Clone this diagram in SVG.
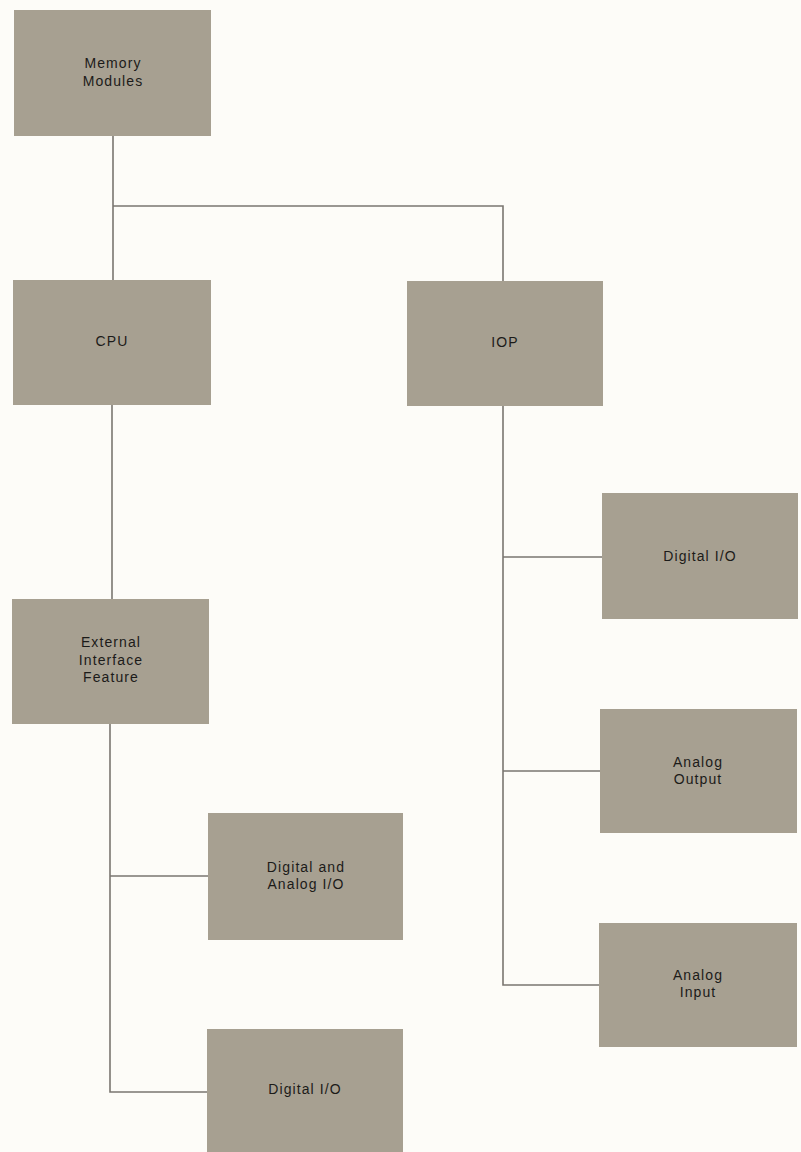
<svg xmlns="http://www.w3.org/2000/svg" width="801" height="1152" viewBox="0 0 801 1152">
<style>
.box{fill:#a7a091;}
.lbl{font-family:"Liberation Sans",Arial,sans-serif;font-size:14px;letter-spacing:1.1px;fill:#1c1b19;text-anchor:middle;}
.conn{fill:none;stroke:#7a7670;stroke-width:1.6;}
</style>
<rect width="801" height="1152" fill="#fdfcf8"/>
<g id="connectors" class="conn">
<path d="M113 136V281M113 206H503V281"/>
<path d="M112 405V599"/>
<path d="M503 406V985H599M503 557H602M503 771H600"/>
<path d="M110 724V1092H207M110 876H208"/>
</g>
<g id="memory"><rect class="box" x="14" y="10" width="197" height="126"/><text class="lbl" x="113" y="68">Memory</text><text class="lbl" x="113" y="86">Modules</text></g>
<g id="cpu"><rect class="box" x="13" y="280" width="198" height="125"/><text class="lbl" x="112" y="346">CPU</text></g>
<g id="iop"><rect class="box" x="407" y="281" width="196" height="125"/><text class="lbl" x="505" y="347">IOP</text></g>
<g id="eif"><rect class="box" x="12" y="599" width="197" height="125"/><text class="lbl" x="111" y="647">External</text><text class="lbl" x="111" y="665">Interface</text><text class="lbl" x="111" y="682">Feature</text></g>
<g id="dio-right"><rect class="box" x="602" y="493" width="196" height="126"/><text class="lbl" x="700" y="561">Digital I/O</text></g>
<g id="aout"><rect class="box" x="600" y="709" width="197" height="124"/><text class="lbl" x="698" y="767">Analog</text><text class="lbl" x="698" y="784">Output</text></g>
<g id="ain"><rect class="box" x="599" y="923" width="198" height="124"/><text class="lbl" x="698" y="980">Analog</text><text class="lbl" x="698" y="997">Input</text></g>
<g id="daio"><rect class="box" x="208" y="813" width="195" height="127"/><text class="lbl" x="306" y="872">Digital and</text><text class="lbl" x="306" y="889">Analog I/O</text></g>
<g id="dio-bottom"><rect class="box" x="207" y="1029" width="196" height="123"/><text class="lbl" x="305" y="1094">Digital I/O</text></g>
</svg>
